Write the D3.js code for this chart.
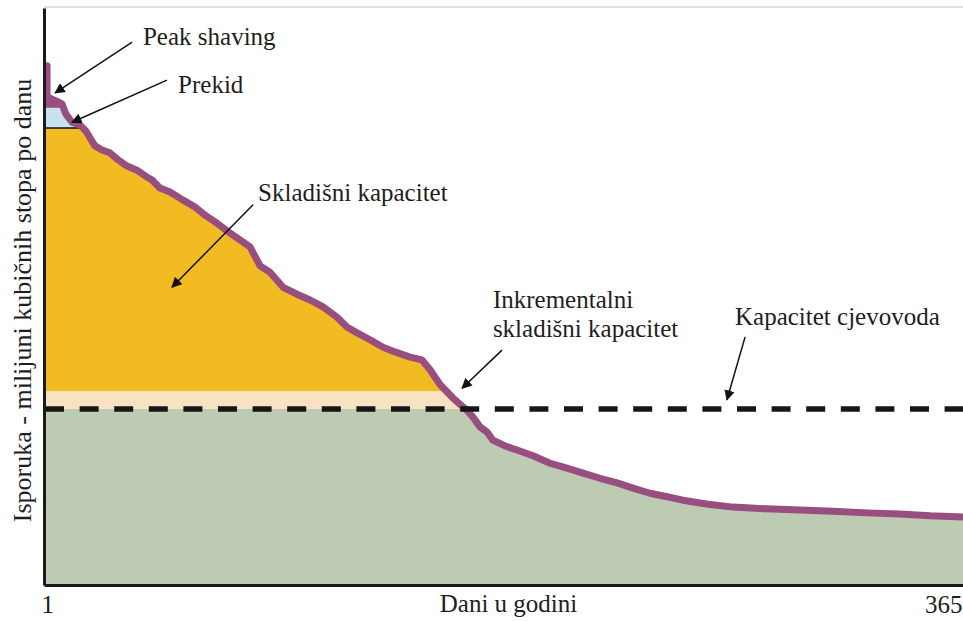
<!DOCTYPE html>
<html lang="hr">
<head>
    <meta charset="UTF-8">
    <title>Isporuka plina tijekom godine</title>
    <style>
        body { margin: 0; background: #fff; }
        svg text { fill: #1e1e1e; }
    </style>
</head>
<body>
    <div class="canvas"></div>

    <script src="https://cdnjs.cloudflare.com/ajax/libs/d3/7.8.5/d3.min.js"></script>
    <script>
        // load duration curve: days sorted by delivery (arbitrary units, 0-100)
        const days = [1, 2.2, 2.2, 4.2, 5.8, 8.1, 9.7, 12.1, 15.3, 17.6, 19.2, 21.2, 24.0, 27.1, 30.3,
            33.9, 37.8, 41.8, 43.8, 46.9, 50.9, 56.1, 60.8, 64.8, 69.5, 74.7, 78.6, 82.6, 86.6, 90.5,
            95.7, 101.2, 106.4, 111.5, 117.1, 121.0, 125.0, 130.1, 135.3, 140.0, 146.0, 150.7, 153.9,
            157.9, 163.0, 166.6, 168.5, 170.9, 173.7, 176.5, 178.8, 183.6, 188.3, 194.7, 201.4, 207.8,
            214.5, 221.2, 228.0, 234.3, 241.0, 247.8, 254.1, 264.0, 273.9, 287.0, 300.4, 313.5, 327.0,
            340.0, 351.9, 365];
        const delivery = [90.0, 90.0, 84.7, 84.2, 83.9, 83.4, 81.6, 80.2, 79.7, 78.7, 77.5, 76.1, 75.4,
            74.9, 73.7, 72.6, 71.9, 70.7, 70.2, 68.8, 68.1, 66.7, 65.5, 64.1, 62.7, 61.0, 59.8, 58.6,
            55.3, 54.2, 51.6, 50.4, 49.4, 48.2, 46.4, 44.7, 43.7, 42.5, 41.2, 40.4, 39.5, 39.0, 37.3,
            34.7, 32.4, 31.0, 30.3, 29.1, 27.4, 26.5, 25.1, 24.1, 23.4, 22.4, 21.1, 20.3, 19.4, 18.5,
            17.7, 16.8, 15.9, 15.3, 14.7, 14.0, 13.5, 13.2, 13.0, 12.8, 12.5, 12.3, 12.0, 11.8];

        // horizontal levels that split the area under the curve
        const pipelineCapacity = 30.5;
        const bandNames = ["cjevovod", "inkrementalni", "skladiste", "prekid", "peak"];
        const bandFrom = [0, 30.5, 33.6, 79.2, 82.7];
        const bandTo = [30.5, 33.6, 79.2, 82.7, 100];
        const bandColors = ["#bccbb2", "#f9e2c2", "#f2bb22", "#c8e1ee", "#984e7f"];

        const xTicks = [1, 365];
        const xLabel = "Dani u godini";
        const yLabel = "Isporuka - milijuni kubičnih stopa po danu";

        // annotations: label lines, text anchor and arrow (from -> to), in data units
        const notes = [
            { lines: ["Peak shaving"], at: [40.2, 93.6], from: [35.9, 94.1], to: [5.4, 85.3] },
            { lines: ["Prekid"], at: [54.1, 85.3], from: [49.7, 87.5], to: [12.1, 80.2] },
            { lines: ["Skladišni kapacitet"], at: [85.8, 66.6], from: [83.8, 65.9], to: [51.7, 51.6] },
            { lines: ["Inkrementalni", "skladišni kapacitet"], at: [178.8, 48.0], from: [182.4, 40.7], to: [166.6, 34.1] },
            { lines: ["Kapacitet cjevovoda"], at: [274.7, 45.1], from: [278.7, 43.0], to: [271.5, 32.1] }
        ];

        const data = days.map((d, i) => ({ day: d, value: delivery[i] }));
        const bands = bandNames.map((n, i) => ({ name: n, from: bandFrom[i], to: bandTo[i], color: bandColors[i] }));

        const width = 963, height = 621;
        const margin = { top: 8, right: 0, bottom: 36, left: 44 };
        const font = "'Liberation Serif', 'Times New Roman', serif";
        const fontSize = 25;

        const svg = d3.select(".canvas").append("svg")
            .attr("width", width)
            .attr("height", height);

        const x = d3.scaleLinear().domain([1, 365]).range([margin.left, width - margin.right]);
        const y = d3.scaleLinear().domain([0, 100]).range([height - margin.bottom, margin.top]);

        const defs = svg.append("defs");
        defs.append("clipPath").attr("id", "under")
            .append("path")
            .attr("d", d3.area().x(d => x(d.day)).y0(y(0)).y1(d => y(d.value))(data));

        defs.append("marker")
            .attr("id", "head")
            .attr("viewBox", "0 0 10 10")
            .attr("refX", 9).attr("refY", 5)
            .attr("markerWidth", 7).attr("markerHeight", 7)
            .attr("markerUnits", "strokeWidth")
            .attr("orient", "auto")
            .append("path")
            .attr("d", "M0,0L10,5L0,10z")
            .attr("fill", "#111");

        // faint frame line at the top
        svg.append("line")
            .attr("x1", x(1)).attr("x2", x(365))
            .attr("y1", y(100) - 1).attr("y2", y(100) - 1)
            .attr("stroke", "#d4d4d4")
            .attr("stroke-width", 1.5);

        // coloured bands, clipped to the area under the curve
        const fills = svg.append("g").attr("clip-path", "url(#under)");
        fills.selectAll("rect")
            .data(bands)
            .join("rect")
                .attr("x", x(1))
                .attr("width", x(365) - x(1))
                .attr("y", d => y(d.to))
                .attr("height", d => y(d.from) - y(d.to))
                .attr("fill", d => d.color);

        fills.append("line")
            .attr("x1", x(1)).attr("x2", x(365))
            .attr("y1", y(bandFrom[3])).attr("y2", y(bandFrom[3]))
            .attr("stroke", "#111")
            .attr("stroke-width", 1.5);

        // delivery curve
        svg.append("path")
            .datum(data)
            .attr("fill", "none")
            .attr("stroke", "#984e7f")
            .attr("stroke-width", 7)
            .attr("stroke-linejoin", "round")
            .attr("d", d3.line().x(d => x(d.day)).y(d => y(d.value)));

        // pipeline capacity
        svg.append("line")
            .attr("x1", x(1) + 1).attr("x2", x(365))
            .attr("y1", y(pipelineCapacity)).attr("y2", y(pipelineCapacity))
            .attr("stroke", "#161616")
            .attr("stroke-width", 5.5)
            .attr("stroke-dasharray", "19 15.6");

        // axes
        const xAxis = svg.append("g")
            .attr("transform", `translate(0,${y(0)})`)
            .call(d3.axisBottom(x).tickValues(xTicks).tickSize(0).tickSizeOuter(0).tickPadding(10))
            .attr("font-family", font);
        xAxis.select(".domain").attr("stroke", "#1b1b1b").attr("stroke-width", 3);
        xAxis.selectAll(".tick text")
            .attr("font-size", fontSize)
            .attr("text-anchor", d => d === 1 ? "start" : "end")
            .attr("dx", d => d === 1 ? -3 : -1);

        const yAxis = svg.append("g")
            .attr("transform", `translate(${x(1)},0)`)
            .call(d3.axisLeft(y).tickValues([]).tickSizeOuter(0));
        yAxis.select(".domain").attr("stroke", "#1b1b1b").attr("stroke-width", 3);

        svg.append("text")
            .attr("x", (x(1) + x(365)) / 2 + 5)
            .attr("y", y(0) + 27)
            .attr("text-anchor", "middle")
            .attr("font-family", font)
            .attr("font-size", fontSize)
            .text(xLabel);

        svg.append("text")
            .attr("transform", `translate(31,${(y(0) + y(100)) / 2 + 4}) rotate(-90)`)
            .attr("text-anchor", "middle")
            .attr("font-family", font)
            .attr("font-size", fontSize + 1)
            .text(yLabel);

        // annotations
        const ann = svg.append("g");
        ann.selectAll("line")
            .data(notes)
            .join("line")
                .attr("x1", d => x(d.from[0]))
                .attr("y1", d => y(d.from[1]))
                .attr("x2", d => x(d.to[0]))
                .attr("y2", d => y(d.to[1]))
                .attr("stroke", "#111")
                .attr("stroke-width", 1.5)
                .attr("marker-end", "url(#head)");

        ann.selectAll("text")
            .data(notes)
            .join("text")
                .attr("x", d => x(d.at[0]))
                .attr("y", d => y(d.at[1]))
                .attr("font-family", font)
                .attr("font-size", fontSize)
                .selectAll("tspan")
                .data(d => d.lines.map((l, i) => ({ l, i, x: x(d.at[0]) })))
                .join("tspan")
                    .attr("x", t => t.x)
                    .attr("dy", t => t.i === 0 ? 0 : 29)
                    .text(t => t.l);
    </script>
</body>
</html>
